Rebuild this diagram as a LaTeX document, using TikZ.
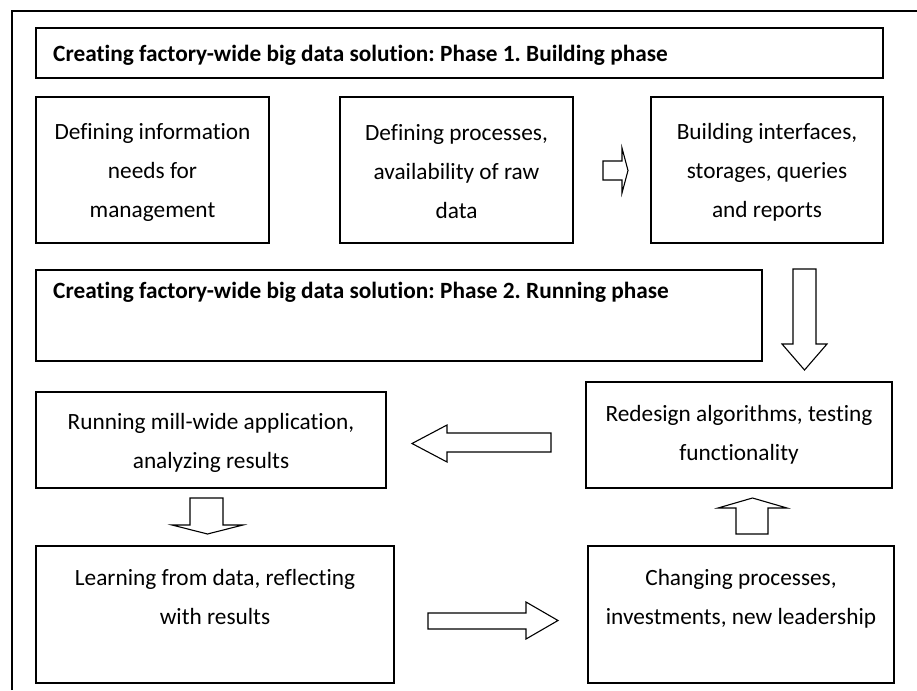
\documentclass[tikz,border=0pt]{standalone}
\usepackage{fontspec}
\setmainfont{Carlito}[Ligatures=CommonOff]
\frenchspacing
\begin{document}
\begin{tikzpicture}[x=1pt,y=-1pt,
  box/.style={draw=black,line width=1.1pt,fill=white},
  txt/.style={align=center,inner sep=0pt,font=\fontsize{23.3}{39}\selectfont},
  ttl/.style={anchor=west,inner sep=0pt,font=\fontsize{23.3}{39}\selectfont\bfseries},
  blockarrow/.style={draw=black,line width=1.1pt,fill=white,line join=miter}]
\useasboundingbox (0,0) rectangle (917,690);
% outer open frame
\draw[line width=1.1pt] (12,690) -- (12,11) -- (917,11);
% boxes
\draw[box] (36,28) rectangle (883,78);
\node[ttl] (t1) at (53,55) {Creating factory-wide big data solution: Phase 1. Building phase};
\draw[box] (36,97) rectangle (269,243);
\node[txt] (a) at (152.5,172) {Defining information\\needs for\\management};
\draw[box] (340,97) rectangle (573,243);
\node[txt] (b) at (456.5,172) {Defining processes,\\availability of raw\\data};
\draw[box] (651,97) rectangle (883,243);
\node[txt] (c) at (767,172) {Building interfaces,\\storages, queries\\and reports};
\draw[box] (36,270) rectangle (762,361);
\node[ttl] (t2) at (53,292) {Creating factory-wide big data solution: Phase 2. Running phase};
\draw[box] (586,382) rectangle (892,488);
\node[txt] (d) at (739,434.5) {Redesign algorithms, testing\\functionality};
\draw[box] (36,392) rectangle (386,488);
\node[txt] (e) at (211,443) {Running mill-wide application,\\analyzing results};
\draw[box] (36,546) rectangle (394,683);
\node[txt] (f) at (215,597) {Learning from data, reflecting\\with results};
\draw[box] (588,546) rectangle (894,683);
\node[txt] (g) at (741,598.5) {Changing processes,\\investments, new leadership};
% block arrows
\draw[blockarrow] (603,161) -- (622,161) -- (622,148) -- (628,170.5) -- (622,193) -- (622,180) -- (603,180) -- cycle;
\draw[blockarrow] (793,269) -- (816,269) -- (816,344) -- (827,344) -- (804.5,370) -- (782,344) -- (793,344) -- cycle;
\draw[blockarrow] (551,433) -- (447,433) -- (447,425) -- (412,443.5) -- (447,462) -- (447,452) -- (551,452) -- cycle;
\draw[blockarrow] (190,498) -- (223,498) -- (223,525) -- (243,525) -- (207.5,534) -- (172,525) -- (190,525) -- cycle;
\draw[blockarrow] (428,613) -- (526,613) -- (526,602) -- (558,620.5) -- (526,639) -- (526,629) -- (428,629) -- cycle;
\draw[blockarrow] (736,534) -- (736,508) -- (718,508) -- (752.5,498) -- (787,508) -- (768,508) -- (768,534) -- cycle;
\end{tikzpicture}
\end{document}
